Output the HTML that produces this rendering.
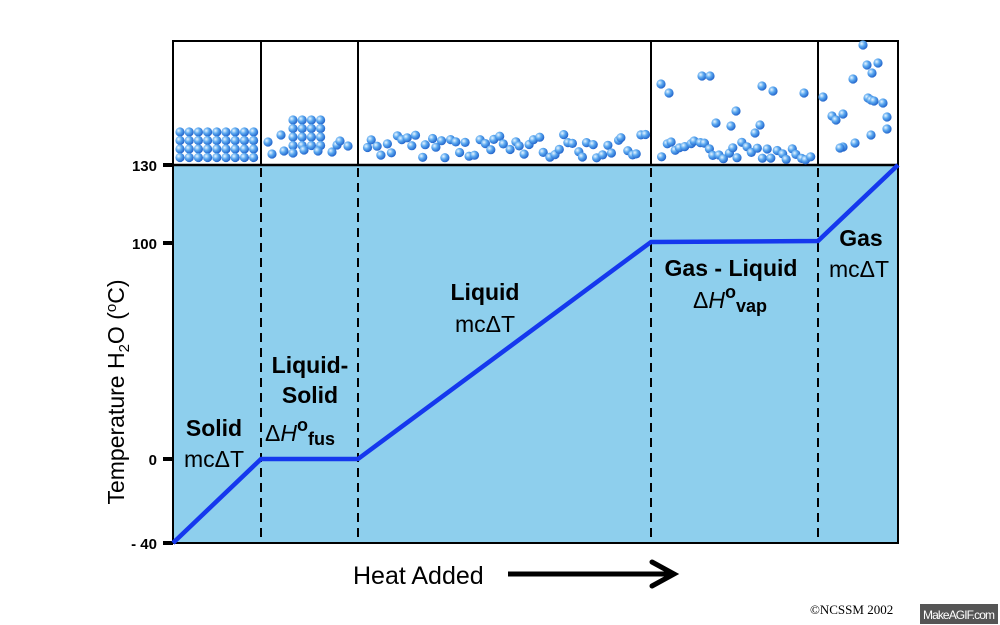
<!DOCTYPE html>
<html><head><meta charset="utf-8"><style>
html,body{margin:0;padding:0;background:#fff;width:1000px;height:625px;overflow:hidden}
svg{display:block}
</style></head><body>
<svg id="s" width="1000" height="625" viewBox="0 0 1000 625" xmlns="http://www.w3.org/2000/svg" font-family="Liberation Sans, sans-serif">
<defs>
<radialGradient id="b" cx="0.35" cy="0.35" r="0.7">
<stop offset="0" stop-color="#e8f6ff"/><stop offset="0.45" stop-color="#5aa8f0"/><stop offset="1" stop-color="#1e5fc8"/>
</radialGradient>
</defs>
<rect x="173" y="165" width="725" height="378" fill="#8ecfed"/>
<rect x="173" y="41" width="725" height="502" fill="none" stroke="#000" stroke-width="2"/>
<line x1="173" y1="165" x2="898" y2="165" stroke="#000" stroke-width="2.5"/>
<g stroke="#000" stroke-width="2">
<line x1="261" y1="41" x2="261" y2="165"/><line x1="358" y1="41" x2="358" y2="165"/>
<line x1="651" y1="41" x2="651" y2="165"/><line x1="818" y1="41" x2="818" y2="165"/>
</g>
<g stroke="#000" stroke-width="2" stroke-dasharray="9,6">
<line x1="261" y1="168" x2="261" y2="543"/><line x1="358" y1="168" x2="358" y2="543"/>
<line x1="651" y1="168" x2="651" y2="543"/><line x1="818" y1="168" x2="818" y2="543"/>
</g>
<g stroke="#000" stroke-width="4">
<line x1="163" y1="165" x2="173" y2="165"/><line x1="163" y1="243" x2="173" y2="243"/>
<line x1="163" y1="459" x2="173" y2="459"/><line x1="163" y1="543" x2="173" y2="543"/>
</g>
<g font-weight="bold" font-size="15" text-anchor="end">
<text x="157" y="171">130</text><text x="157" y="249">100</text><text x="157" y="465">0</text><text x="157" y="549">- 40</text>
</g>
<text transform="translate(124,392) rotate(-90)" text-anchor="middle" font-size="23">Temperature H<tspan font-size="15" dy="5">2</tspan><tspan dy="-5">O (</tspan><tspan font-size="15" dy="-8">o</tspan><tspan dy="8">C)</tspan></text>
<polyline points="173,543 261,459 358,459 651,242 818,241 898,165" fill="none" stroke="#1538ee" stroke-width="4.5" stroke-linejoin="round"/>
<g text-anchor="middle" font-size="23">
<text x="214" y="436" font-weight="bold">Solid</text><text x="214" y="467">mcΔT</text>
<text x="310" y="373" font-weight="bold">Liquid-</text><text x="310" y="403" font-weight="bold">Solid</text>
<text x="300" y="441">Δ<tspan font-style="italic">H</tspan><tspan font-weight="bold" font-size="18" dy="-10">o</tspan><tspan font-weight="bold" font-size="18" dy="14">fus</tspan></text>
<text x="485" y="300" font-weight="bold">Liquid</text><text x="485" y="332">mcΔT</text>
<text x="731" y="276" font-weight="bold">Gas - Liquid</text>
<text x="730" y="308">Δ<tspan font-style="italic">H</tspan><tspan font-weight="bold" font-size="18" dy="-10">o</tspan><tspan font-weight="bold" font-size="18" dy="14">vap</tspan></text>
<text x="861" y="246" font-weight="bold">Gas</text><text x="859" y="277">mcΔT</text>
</g>
<text x="353" y="584" font-size="25">Heat Added</text>
<line x1="508" y1="574" x2="672" y2="574" stroke="#000" stroke-width="5"/>
<polyline points="652,562 674,574 652,586" fill="none" stroke="#000" stroke-width="5" stroke-linecap="round"/>
<text x="810" y="614" font-family="Liberation Serif, serif" font-size="13">©NCSSM 2002</text>
<rect x="920" y="604" width="78" height="20" fill="#555"/>
<text x="959" y="619" text-anchor="middle" font-size="12" fill="#fff" textLength="72">MakeAGIF.com</text>
<g id="balls"></g>
</svg>
<script>
var g=document.getElementById('balls'),h='';
function c(x,y){h+='<circle cx="'+x.toFixed(1)+'" cy="'+y.toFixed(1)+'" r="4.6" fill="url(#b)"/>';}
for(var r=0;r<4;r++)for(var i=0;i<9;i++)c(180+i*9.2,132+r*8.5);
for(r=0;r<4;r++)for(i=0;i<4;i++)c(293+i*9.2,120+r*8.5);
[[268,142],[272,154],[284,151],[293,153],[304,150],[318,151],[332,152],[337,145],[340,141],[348,146],[281,135]].forEach(function(p){c(p[0],p[1]);});
var s=7;function rnd(){s=(s*9301+49297)%233280;return s/233280;}
for(i=0;i<58;i++)c(366+i*4.9+rnd()*3,134+rnd()*24);
for(i=0;i<32;i++)c(660+i*4.8+rnd()*3,141+rnd()*19);
[[661,84],[669,93],[702,76],[710,76],[716,123],[736,111],[762,86],[773,91],[804,93],[731,126],[760,125],[755,133]].forEach(function(p){c(p[0],p[1]);});
[[823,97],[832,116],[836,120],[843,147],[843,114],[853,79],[863,45],[867,65],[872,73],[878,63],[868,98],[871,100],[874,101],[883,103],[871,135],[887,117],[887,129],[840,148],[855,143]].forEach(function(p){c(p[0],p[1]);});
g.innerHTML=h;
</script>
</body></html>
